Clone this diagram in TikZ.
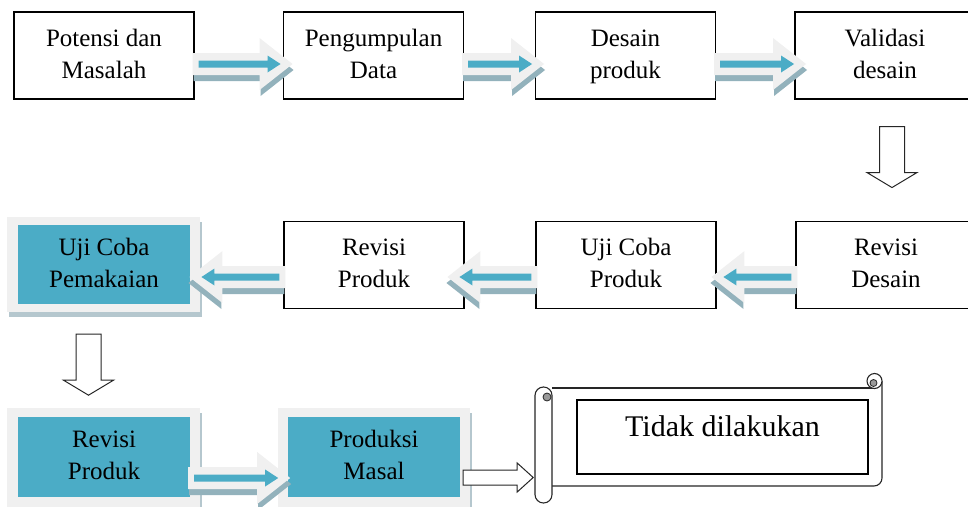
\documentclass[tikz,border=0pt]{standalone}
\usepackage{fontspec}
\setmainfont{Liberation Serif}
\usetikzlibrary{calc,shadows}
\definecolor{teal5}{HTML}{4BACC6}
\definecolor{lightarr}{HTML}{F0F0F0}
\definecolor{arrshad}{HTML}{93B2BC}
\definecolor{framefill}{HTML}{F0F0F0}
\definecolor{frameshad}{HTML}{B5C7CE}
\definecolor{curlgray}{HTML}{9A9A9A}

% #1 origin, #2 direction (1 right / -1 left), #3 length, #4 vertical offset
\newcommand\flowarrow[4]{%
  \pgfmathsetmacro\fahb{#3-33}%
  \pgfmathsetmacro\fatb{#3-25}%
  \pgfmathsetmacro\fatt{#3-12}%
  \begin{scope}[shift={(#1)},shift={(0,#4)},xscale=#2]
    \fill[arrshad,shift={(1,6)}] (-2,-11) -- (\fahb,-11) -- (\fahb,-26) -- (#3,0) -- (\fahb,26) -- (\fahb,11) -- (-2,11) -- cycle;
    \fill[lightarr] (-2,-11) -- (\fahb,-11) -- (\fahb,-26) -- (#3,0) -- (\fahb,26) -- (\fahb,11) -- (-2,11) -- cycle;
    \fill[teal5] (4,-3.5) -- (\fatb,-3.5) -- (\fatb,-8.5) -- (\fatt,0) -- (\fatb,8.5) -- (\fatb,3.5) -- (4,3.5) -- cycle;
  \end{scope}}

\newcommand\hollowdown[1]{%
  \draw[hollow,shift={(#1)}] (-12.5,0) -- (12.5,0) -- (12.5,46) -- (25,46) -- (0,61) -- (-25,46) -- (-12.5,46) -- cycle;}

\begin{document}
\begin{tikzpicture}[x=1pt,y=-1pt,
  boxtext/.style={inner sep=0pt,align=center,font=\fontsize{25}{32}\selectfont,text height=49pt,text depth=4pt},
  box/.style={boxtext,draw=black,line width=1.1pt,fill=white,minimum width=180pt,minimum height=87pt},
  tealbox/.style={boxtext,fill=teal5,minimum width=172pt,minimum height=80pt},
  framebox/.style={fill=framefill,inner sep=0pt,drop shadow={shadow xshift=2pt,shadow yshift=-5pt,fill=frameshad,opacity=1}},
  hollow/.style={draw=black!85,line width=1pt,fill=white,line join=miter},
  scrollline/.style={draw=black!85,line width=1.1pt,fill=white}
  ]
\useasboundingbox (0,0) rectangle (968,506);
\clip (0,0) rectangle (968,506);

% top row
\node[box] (b1) at (104,55.5) {Potensi dan\\Masalah};
\node[box] (b2) at (373.5,55.5) {Pengumpulan\\Data};
\node[box] (b3) at (625.5,55.5) {Desain\\produk};
\node[box] (b4) at (885,55.5) {Validasi\\desain};

% second row
\node[box] (rd) at (886,265) {Revisi\\Desain};
\node[box] (ucp) at (626,265) {Uji Coba\\Produk};
\node[box] (rp) at (374,265) {Revisi\\Produk};
\node[framebox,minimum width=193pt,minimum height=95pt] (f1) at (103.5,264.5) {};
\node[tealbox,minimum height=79pt] (ucm) at (104,264.5) {Uji Coba\\Pemakaian};

% third row
\node[framebox,minimum width=193pt,minimum height=104pt] (f2) at (103.5,460) {};
\node[tealbox] (rp2) at (104,457) {Revisi\\Produk};
\node[framebox,minimum width=192pt,minimum height=104pt] (f3) at (374,460) {};
\node[tealbox] (pm) at (374,457) {Produksi\\Masal};

% arrows between boxes
\flowarrow{b1.east}{1}{98}{8.5}
\flowarrow{b2.east}{1}{80}{8.5}
\flowarrow{b3.east}{1}{90}{8.5}
\flowarrow{rd.west}{-1}{84}{12}
\flowarrow{ucp.west}{-1}{88}{12}
\flowarrow{rp.west}{-1}{94}{12}
\flowarrow{rp2.east}{1}{100}{21}

\hollowdown{$(b4.south)+(7,27)$}
\hollowdown{$(f1.south)+(-15,22)$}

% scroll
\fill[white] (552,388) rectangle (882,486);
\draw[scrollline] (874.5,388) -- (552,388);
\draw[scrollline,fill=none] (882,381) -- (882,478) arc[start angle=0,end angle=90,radius=8] -- (552,486);
\draw[scrollline] (874.5,381) circle[radius=7.5];
\draw[draw=black!85,line width=0.8pt,fill=curlgray] (873.5,383) circle[radius=3.5];
\draw[scrollline,rounded corners=8.4pt] (535,387) rectangle (552,503);
\draw[draw=black!85,line width=0.8pt,fill=curlgray] (547,397) circle[radius=4];
\node[draw=black,line width=1.1pt,minimum width=291pt,minimum height=74pt,inner sep=0pt,
  label={[anchor=north,yshift=-16pt,inner sep=0pt,font=\fontsize{30}{36}\selectfont]north:Tidak dilakukan}] (td) at (722.5,437) {};

% arrow from Produksi Masal to the scroll
\draw[hollow,shift={($(pm.east)+(3,20.5)$)}] (0,-7.5) -- (54,-7.5) -- (54,-14.5) -- (70,0) -- (54,14.5) -- (54,7.5) -- (0,7.5) -- cycle;
\end{tikzpicture}
\end{document}
